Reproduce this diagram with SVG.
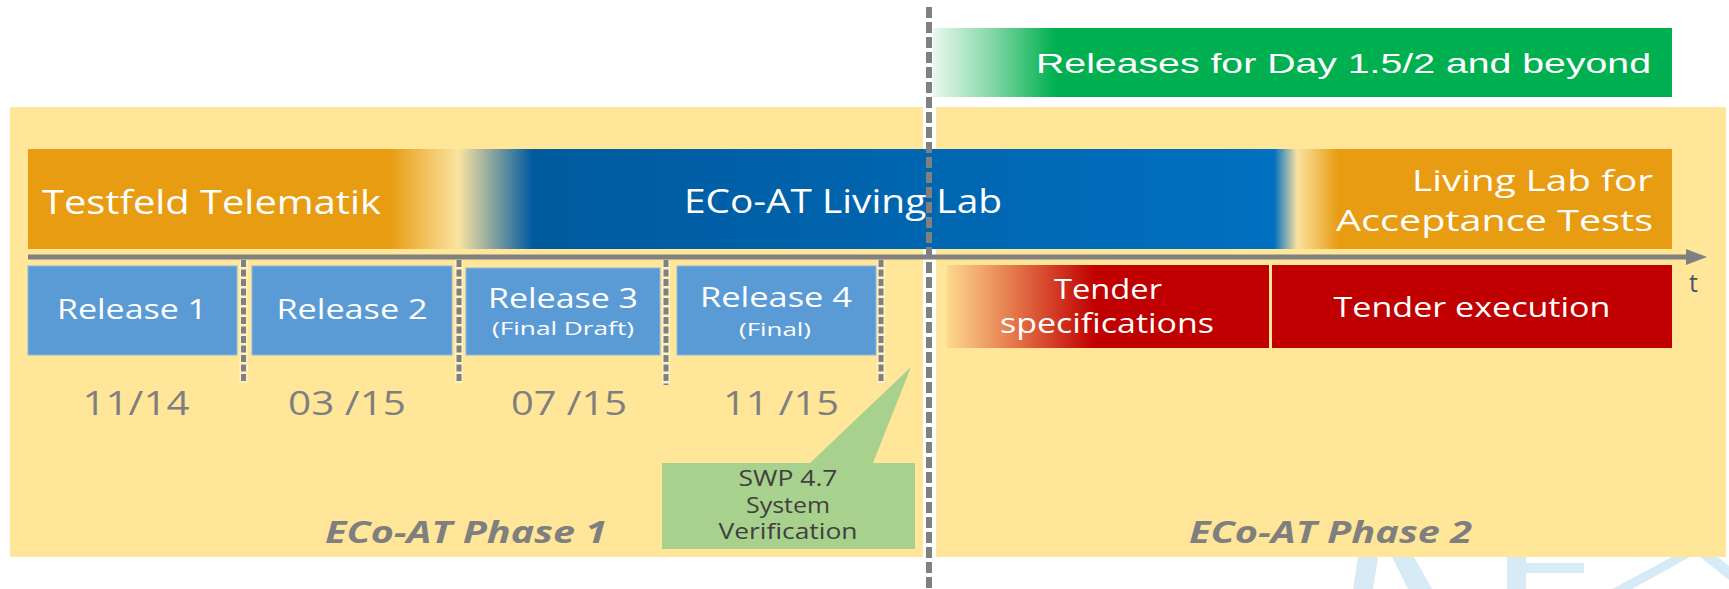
<svg xmlns="http://www.w3.org/2000/svg" width="1729" height="589" viewBox="0 0 1729 589">
<style>
.lbl{font-family:"Open Sans","Noto Sans",sans-serif;fill:#FFFFFF;}
.date{font-family:"Open Sans","Noto Sans",sans-serif;fill:#7F7F7F;font-size:32px;text-anchor:middle;}
.phase{font-family:"Open Sans","Noto Sans",sans-serif;fill:#7F7F7F;font-size:30px;font-weight:bold;font-style:italic;}
.rel{fill:#5B9BD5;stroke:#8DB8E2;stroke-width:1;}
.rt{font-size:27px;text-anchor:middle;}
.rs{font-size:18px;text-anchor:middle;}
.tick{stroke:#808080;stroke-width:5;stroke-dasharray:7 2.5;fill:none;}
.tickbg{stroke:#FFF1C4;stroke-width:8;fill:none;}
.swp{font-family:"Open Sans","Noto Sans",sans-serif;fill:#404040;font-size:21px;text-anchor:middle;}
.wm{fill:#D6EBF5;}
</style>
<defs>
<linearGradient id="barGrad" gradientUnits="userSpaceOnUse" x1="28" y1="0" x2="1672" y2="0">
<stop offset="0" stop-color="#E89C12"/>
<stop offset="0.220" stop-color="#E89C12"/>
<stop offset="0.262" stop-color="#FAE3A0"/>
<stop offset="0.307" stop-color="#005A9E"/>
<stop offset="0.758" stop-color="#0070C0"/>
<stop offset="0.772" stop-color="#FAE3A0"/>
<stop offset="0.797" stop-color="#E89C12"/>
<stop offset="1" stop-color="#E89C12"/>
</linearGradient>
<linearGradient id="greenGrad" gradientUnits="userSpaceOnUse" x1="933" y1="0" x2="1055" y2="0">
<stop offset="0" stop-color="#EAF8EF"/>
<stop offset="0.5" stop-color="#7FD6A4"/>
<stop offset="1" stop-color="#00B050"/>
</linearGradient>
<linearGradient id="redGrad" gradientUnits="userSpaceOnUse" x1="947" y1="0" x2="1095" y2="0">
<stop offset="0" stop-color="#FCD98E"/>
<stop offset="0.45" stop-color="#E5774A"/>
<stop offset="1" stop-color="#C00000"/>
</linearGradient>
</defs>

<g id="watermark">
<polygon class="wm" points="1358,557 1378,557 1373,589 1353,589"/>
<polygon class="wm" points="1392,557 1414,557 1432,589 1408,589"/>
<polygon class="wm" points="1507,557 1526,557 1526,589 1507,589"/>
<polygon class="wm" points="1520,563 1584,563 1584,573 1520,573"/>
<polygon class="wm" points="1612,589 1672,557 1690,557 1632,589"/>
<polygon class="wm" points="1700,557 1718,557 1729,566 1729,580"/>
</g>

<g id="phase1-panel">
<rect x="10" y="107" width="913" height="450" fill="#FFE699"/>
</g>
<g id="phase2-panel">
<rect x="936" y="107" width="790" height="450" fill="#FFE699"/>
</g>

<g id="releases-beyond">
<rect x="933" y="28" width="739" height="69" fill="url(#greenGrad)"/>
<text x="1036" y="73" font-family="Liberation Sans, Arial, sans-serif" font-size="28" fill="#FFFFFF" textLength="615" lengthAdjust="spacingAndGlyphs">Releases for Day 1.5/2 and beyond</text>
</g>

<g id="program-bar">
<rect x="28" y="149" width="1644" height="100" fill="url(#barGrad)"/>
<text class="lbl" x="42" y="214" font-size="33" textLength="339" lengthAdjust="spacingAndGlyphs">Testfeld Telematik</text>
<text class="lbl" x="684" y="213" font-size="33" textLength="318" lengthAdjust="spacingAndGlyphs">ECo-AT Living Lab</text>
<text class="lbl" x="1653" y="191" font-size="29" text-anchor="end" textLength="241" lengthAdjust="spacingAndGlyphs">Living Lab for</text>
<text class="lbl" x="1653" y="231" font-size="29" text-anchor="end" textLength="317" lengthAdjust="spacingAndGlyphs">Acceptance Tests</text>
</g>

<g id="release1">
<rect class="rel" x="28" y="266" width="209" height="89"/>
<text class="lbl rt" x="132" y="319" textLength="150" lengthAdjust="spacingAndGlyphs">Release 1</text>
</g>
<g id="release2">
<rect class="rel" x="252" y="266" width="200" height="89"/>
<text class="lbl rt" x="352" y="319" textLength="151" lengthAdjust="spacingAndGlyphs">Release 2</text>
</g>
<g id="release3">
<rect class="rel" x="466" y="268" width="194" height="87"/>
<text class="lbl rt" x="563" y="308" textLength="150" lengthAdjust="spacingAndGlyphs">Release 3</text>
<text class="lbl rs" x="563" y="335" textLength="142" lengthAdjust="spacingAndGlyphs">(Final Draft)</text>
</g>
<g id="release4">
<rect class="rel" x="677" y="266" width="199" height="89"/>
<text class="lbl rt" x="776" y="307" textLength="152" lengthAdjust="spacingAndGlyphs">Release 4</text>
<text class="lbl rs" x="775" y="336" textLength="72" lengthAdjust="spacingAndGlyphs">(Final)</text>
</g>

<g id="tender-spec">
<rect x="947" y="265" width="322" height="83" fill="url(#redGrad)"/>
<text class="lbl rt" x="1108" y="299" textLength="108" lengthAdjust="spacingAndGlyphs">Tender</text>
<text class="lbl rt" x="1107" y="333" textLength="214" lengthAdjust="spacingAndGlyphs">specifications</text>
</g>
<g id="tender-exec">
<rect x="1272" y="265" width="400" height="83" fill="#C00000"/>
<text class="lbl rt" x="1472" y="317" textLength="277" lengthAdjust="spacingAndGlyphs">Tender execution</text>
</g>

<g id="dates">
<text class="date" x="136" y="415" textLength="107" lengthAdjust="spacingAndGlyphs">11/14</text>
<text class="date" x="347" y="415" textLength="118" lengthAdjust="spacingAndGlyphs">03 /15</text>
<text class="date" x="569" y="415" textLength="116" lengthAdjust="spacingAndGlyphs">07 /15</text>
<text class="date" x="781" y="415" textLength="116" lengthAdjust="spacingAndGlyphs">11 /15</text>
</g>

<g id="phase-labels">
<text class="phase" x="325" y="543" textLength="282" lengthAdjust="spacingAndGlyphs">ECo-AT Phase 1</text>
<text class="phase" x="1189" y="543" textLength="283" lengthAdjust="spacingAndGlyphs">ECo-AT Phase 2</text>
</g>

<g id="swp-callout">
<path d="M662,463 H810 L911,367 L873,463 H915 V549 H662 Z" fill="#A9D18E"/>
<text class="swp" x="788" y="486" textLength="99" lengthAdjust="spacingAndGlyphs">SWP 4.7</text>
<text class="swp" x="788" y="513" textLength="84" lengthAdjust="spacingAndGlyphs">System</text>
<text class="swp" x="788" y="539" textLength="139" lengthAdjust="spacingAndGlyphs">Verification</text>
</g>

<g id="connectors">
<line class="tickbg" x1="243.5" y1="260" x2="243.5" y2="383"/>
<line class="tickbg" x1="459" y1="260" x2="459" y2="383"/>
<line class="tickbg" x1="666" y1="260" x2="666" y2="385"/>
<line class="tickbg" x1="881" y1="260" x2="881" y2="383"/>
<line class="tick" x1="243.5" y1="260" x2="243.5" y2="383"/>
<line class="tick" x1="459" y1="260" x2="459" y2="383"/>
<line class="tick" x1="666" y1="260" x2="666" y2="385"/>
<line class="tick" x1="881" y1="260" x2="881" y2="383"/>
<line x1="28" y1="257" x2="1688" y2="257" stroke="#808080" stroke-width="5"/>
<polygon points="1686,249 1707,257 1686,265" fill="#808080"/>
<line x1="929" y1="7" x2="929" y2="589" stroke="#808080" stroke-width="6" stroke-dasharray="11 4"/>
</g>

<g id="time-label">
<text x="1689" y="292" font-family="Open Sans, Noto Sans, sans-serif" font-size="25" fill="#44546A">t</text>
</g>
</svg>
